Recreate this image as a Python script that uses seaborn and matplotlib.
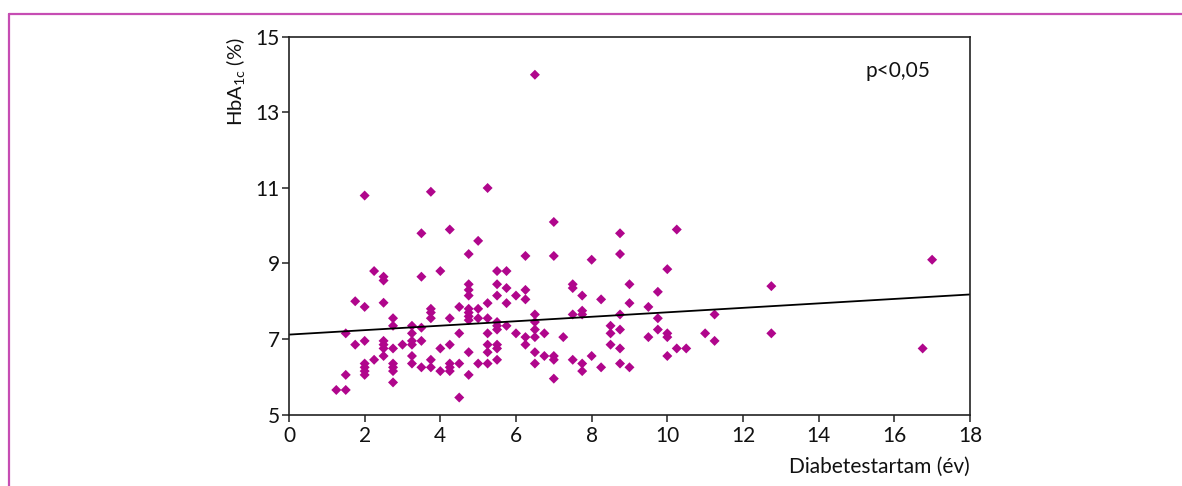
import matplotlib
matplotlib.use("Agg")
import matplotlib.pyplot as plt
from matplotlib.lines import Line2D
import seaborn as sns
import pandas as pd

# ---- data ----
duration_years = [
    1.25,
    1.5, 1.5, 1.5,
    1.75, 1.75,
    2, 2, 2, 2, 2, 2, 2,
    2.25, 2.25,
    2.5, 2.5, 2.5, 2.5, 2.5, 2.5, 2.5,
    2.75, 2.75, 2.75, 2.75, 2.75, 2.75, 2.75,
    3,
    3.25, 3.25, 3.25, 3.25, 3.25, 3.25,
    3.5, 3.5, 3.5, 3.5, 3.5,
    3.75, 3.75, 3.75, 3.75, 3.75, 3.75,
    4, 4, 4,
    4.25, 4.25, 4.25, 4.25, 4.25, 4.25,
    4.5, 4.5, 4.5, 4.5,
    4.75, 4.75, 4.75, 4.75, 4.75, 4.75, 4.75, 4.75, 4.75, 4.75,
    5, 5, 5, 5,
    5.25, 5.25, 5.25, 5.25, 5.25, 5.25, 5.25,
    5.5, 5.5, 5.5, 5.5, 5.5, 5.5, 5.5, 5.5, 5.5,
    5.75, 5.75, 5.75, 5.75,
    6, 6,
    6.25, 6.25, 6.25, 6.25, 6.25,
    6.5, 6.5, 6.5, 6.5, 6.5, 6.5, 6.5,
    6.75, 6.75,
    7, 7, 7, 7, 7,
    7.25,
    7.5, 7.5, 7.5, 7.5,
    7.75, 7.75, 7.75, 7.75, 7.75,
    8, 8,
    8.25, 8.25,
    8.5, 8.5, 8.5,
    8.75, 8.75, 8.75, 8.75, 8.75, 8.75,
    9, 9, 9,
    9.5, 9.5,
    9.75, 9.75, 9.75,
    10, 10, 10, 10,
    10.25, 10.25,
    10.5,
    11,
    11.25, 11.25,
    12.75, 12.75,
    16.75,
    17,
]
hba1c = [
    5.65,
    7.15, 6.05, 5.65,
    8.0, 6.85,
    10.8, 7.85, 6.95, 6.35, 6.25, 6.15, 6.05,
    8.8, 6.45,
    8.65, 8.55, 7.96, 6.95, 6.85, 6.75, 6.55,
    7.55, 7.35, 6.75, 6.35, 6.25, 6.15, 5.85,
    6.85,
    7.35, 7.15, 6.95, 6.85, 6.55, 6.35,
    9.8, 8.65, 7.3, 6.95, 6.25,
    10.9, 7.8, 7.7, 7.55, 6.45, 6.25,
    8.8, 6.75, 6.15,
    9.9, 7.55, 6.85, 6.35, 6.25, 6.15,
    7.85, 7.15, 6.35, 5.45,
    9.25, 8.45, 8.3, 8.15, 7.8, 7.7, 7.6, 7.5, 6.65, 6.05,
    9.6, 7.8, 7.55, 6.35,
    11.0, 7.95, 7.55, 7.15, 6.85, 6.65, 6.35,
    8.8, 8.45, 8.15, 7.45, 7.35, 7.25, 6.85, 6.75, 6.45,
    8.8, 8.35, 7.95, 7.35,
    8.15, 7.15,
    9.2, 8.3, 8.05, 7.05, 6.85,
    14.0, 7.65, 7.45, 7.25, 7.05, 6.65, 6.35,
    7.15, 6.55,
    10.1, 9.2, 6.55, 6.45, 5.95,
    7.05,
    8.45, 8.35, 7.65, 6.45,
    8.15, 7.75, 7.65, 6.35, 6.15,
    9.1, 6.55,
    8.05, 6.25,
    7.35, 7.15, 6.85,
    9.8, 9.25, 7.65, 7.25, 6.75, 6.35,
    8.45, 7.95, 6.25,
    7.85, 7.05,
    8.25, 7.55, 7.25,
    8.85, 7.15, 7.05, 6.55,
    9.9, 6.75,
    6.75,
    7.15,
    7.65, 6.95,
    8.4, 7.15,
    6.75,
    9.1,
]
x_ticks = [0, 2, 4, 6, 8, 10, 12, 14, 16, 18]
y_ticks = [5, 7, 9, 11, 13, 15]
x_label = "Diabetestartam (év)"
y_label = r"HbA$_{\mathrm{1c}}$ (%)"
annotation = "p<0,05"

df = pd.DataFrame({"dur": duration_years, "hba1c": hba1c})

# ---- style ----
sns.set_theme(style="white")
FONT = "Lato"
plt.rcParams["font.family"] = [FONT, "DejaVu Sans"]
plt.rcParams["mathtext.fontset"] = "custom"
plt.rcParams["mathtext.rm"] = FONT
plt.rcParams["mathtext.it"] = FONT + ":italic"
plt.rcParams["mathtext.bf"] = FONT + ":bold"

POINT_COLOR = "#b0068c"
FRAME_COLOR = "#c64db3"

fig = plt.figure(figsize=(11.82, 4.86), dpi=100)
ax = fig.add_axes([0.2445, 0.1471, 0.8206 - 0.2445, 0.9239 - 0.1471])
ax.set_xlim(0, 18)
ax.set_ylim(5, 15)

sns.regplot(
    data=df, x="dur", y="hba1c", ax=ax, ci=None, truncate=False,
    marker="D",
    scatter_kws=dict(s=26, color=POINT_COLOR, edgecolors="none", alpha=1),
    line_kws=dict(color="black", lw=1.3),
)
ax.set_xlim(0, 18)
ax.set_ylim(5, 15)

ax.set_xticks(x_ticks)
ax.set_yticks(y_ticks)
ax.tick_params(axis="both", which="major", direction="out", length=5.2,
               width=1.1, color="#222222", labelsize=15, labelcolor="#111111")
ax.tick_params(axis="x", pad=3)
ax.tick_params(axis="y", pad=1.5)
ax.xaxis.set_ticks_position("bottom")
ax.yaxis.set_ticks_position("left")

for side in ["left", "bottom", "top", "right"]:
    ax.spines[side].set_visible(True)
    ax.spines[side].set_color("#222222")
    ax.spines[side].set_linewidth(1.2)

ax.set_xlabel(x_label, fontsize=15, loc="right", labelpad=8, color="#111111")
ax.set_ylabel(y_label, fontsize=14.5, loc="top", labelpad=6, color="#111111")

ax.text(15.25, 13.94, annotation, fontsize=15, ha="left", va="baseline",
        color="#111111")

# magenta frame (top and left edges)
fig.add_artist(Line2D([9 / 1182, 1.0], [1 - 14 / 486, 1 - 14 / 486],
                      transform=fig.transFigure, color=FRAME_COLOR, lw=1.6))
fig.add_artist(Line2D([9 / 1182, 9 / 1182], [0.0, 1 - 14 / 486],
                      transform=fig.transFigure, color=FRAME_COLOR, lw=1.6))

fig.savefig("out.png", dpi=100)
